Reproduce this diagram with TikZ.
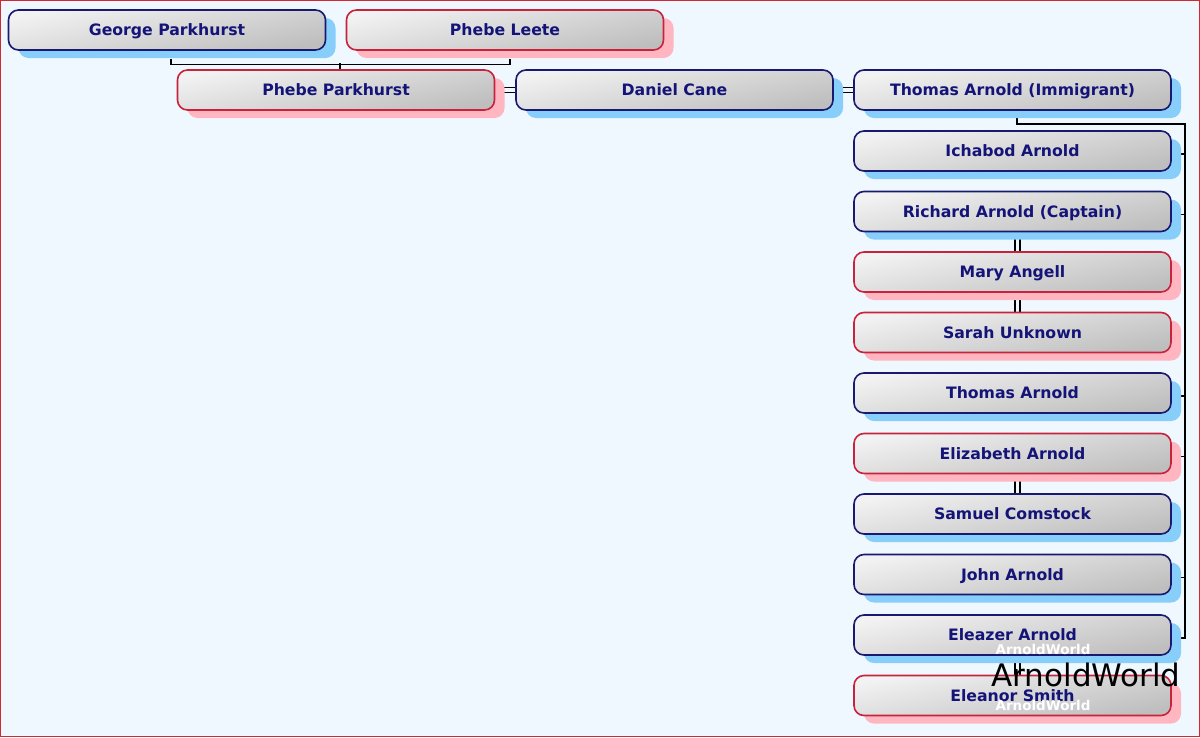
\documentclass[tikz,border=0pt]{standalone}
\usepackage{fontspec}
\setmainfont{DejaVu Sans}
\usetikzlibrary{shadows,calc}
\definecolor{bgc}{RGB}{240,248,255}
\definecolor{framec}{RGB}{210,40,50}
\definecolor{mline}{RGB}{25,25,112}
\definecolor{fline}{RGB}{200,35,60}
\definecolor{mshad}{RGB}{135,206,250}
\definecolor{fshad}{RGB}{255,182,193}
\definecolor{ntext}{RGB}{20,20,120}
\definecolor{glight}{RGB}{242,242,242}
\definecolor{gdark}{RGB}{190,190,190}
\pgfdeclarelayer{bg}
\pgfsetlayers{bg,main}
\tikzset{
  person/.style={rectangle, rounded corners=10pt, minimum width=317pt, minimum height=40pt,
    inner sep=0pt, line width=1.6pt, top color=glight, bottom color=gdark, shading angle=12,
    text height=11.5pt, text depth=0pt,
    font=\fontsize{15.7}{18}\selectfont\bfseries, text=ntext},
  male/.style={person, draw=mline, general shadow={fill=mshad, shadow xshift=10pt, shadow yshift=-8pt}},
  female/.style={person, draw=fline, general shadow={fill=fshad, shadow xshift=10pt, shadow yshift=-8pt}},
  conn/.style={draw=black, line width=1.2pt},
  wmsmall/.style={font=\fontsize{13.5}{15}\selectfont\bfseries, text=white, inner sep=0pt},
  wmbig/.style={font=\fontsize{31}{34}\selectfont, text=black, inner sep=0pt},
}
\begin{document}
\begin{tikzpicture}[x=1pt,y=-1pt]
\useasboundingbox (0,0) rectangle (1200,737);
\begin{pgfonlayer}{bg}
\fill[bgc] (0,0) rectangle (1200,737);
\end{pgfonlayer}
\draw[framec, line width=1pt] (0.5,0.5) rectangle (1199.5,736.5);

\node[male] (gp) at (167,30) {George Parkhurst};
\node[female] (pl) at (505,30) {Phebe Leete};
\node[female] (pp) at (336,90) {Phebe Parkhurst};
\node[male] (dc) at (674.5,90) {Daniel Cane};
\node[male] (ta) at (1012.5,90) {Thomas Arnold (Immigrant)};
\node[male] (ia) at (1012.5,151) {Ichabod Arnold};
\node[male] (ra) at (1012.5,211.5) {Richard Arnold (Captain)};
\node[female] (ma) at (1012.5,272) {Mary Angell};
\node[female] (su) at (1012.5,332.5) {Sarah Unknown};
\node[male] (tr) at (1012.5,393) {Thomas Arnold};
\node[female] (ea) at (1012.5,453.5) {Elizabeth Arnold};
\node[male] (sc) at (1012.5,514) {Samuel Comstock};
\node[male] (ja) at (1012.5,574.5) {John Arnold};
\node[male] (el) at (1012.5,635) {Eleazer Arnold};
\node[female] (es) at (1012.5,695.5) {Eleanor Smith};

\coordinate (bus) at (1185,124);

\begin{pgfonlayer}{bg}
% parents of Phebe Parkhurst
\draw[conn] ([xshift=4pt,yshift=-8pt]gp.south) -- ++(0,6) -| ([xshift=5pt,yshift=-8pt]pl.south);
\draw[conn] ([xshift=4pt]pp.north) -- ++(0,-6);
% marriages (horizontal)
\draw[conn] ([yshift=2.5pt]pp.east) -- ([yshift=2.5pt]dc.west);
\draw[conn] ([yshift=-2.5pt]pp.east) -- ([yshift=-2.5pt]dc.west);
\draw[conn] ([yshift=2.5pt]dc.east) -- ([yshift=2.5pt]ta.west);
\draw[conn] ([yshift=-2.5pt]dc.east) -- ([yshift=-2.5pt]ta.west);
% children bus
\draw[conn] ([xshift=4.5pt]ta.south) |- (bus) -- ([yshift=-3pt]el.east -| bus) -- ([yshift=-3pt]el.east);
\foreach \c in {ia,ra,tr,ea,ja}{
  \draw[conn] ([yshift=-3pt]\c.east) -- ([yshift=-3pt]\c.east -| bus);
}
% marriages (vertical)
\foreach \a/\b in {ra/ma, ma/su, ea/sc, el/es}{
  \draw[conn] ([xshift=2.5pt]\a.south) -- ([xshift=2.5pt]\b.north);
  \draw[conn] ([xshift=7.5pt]\a.south) -- ([xshift=7.5pt]\b.north);
}
\end{pgfonlayer}

% watermark
\node[wmsmall] (wm1) at (1043,649) {ArnoldWorld};
\node[wmbig] (wm2) at (1086,675) {ArnoldWorld};
\node[wmsmall] (wm3) at (1043,705) {ArnoldWorld};
\end{tikzpicture}
\end{document}
